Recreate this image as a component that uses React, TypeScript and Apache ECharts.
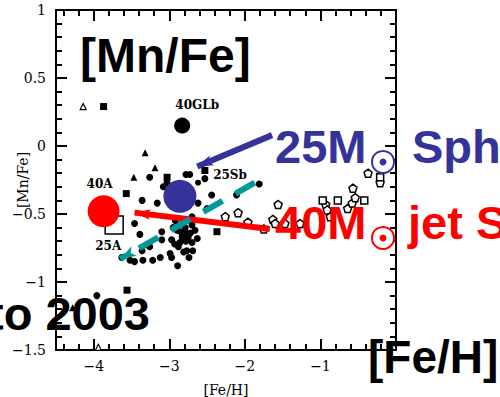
import React, { useEffect, useRef } from "react";
import * as echarts from "echarts";

// Halo star abundances: [Fe/H], [Mn/Fe]
const filledDots: number[][] = [
  [-3.26, -0.23], [-2.78, -0.21], [-2.53, -0.24], [-3.36, -0.40], [-3.16, -0.42],
  [-3.08, -0.30], [-2.44, -0.36], [-2.62, -0.42], [-2.50, -0.46], [-2.11, -0.36],
  [-3.46, -0.57], [-3.39, -0.65], [-3.10, -0.69], [-2.97, -0.69], [-2.90, -0.62],
  [-2.83, -0.67], [-2.79, -0.60], [-2.70, -0.58], [-2.66, -0.62], [-2.75, -0.67],
  [-2.86, -0.71], [-2.70, -0.71], [-2.63, -0.68], [-2.77, -0.77], [-2.69, -0.77],
  [-2.97, -0.82], [-2.74, -0.82], [-3.26, -0.74], [-3.36, -0.77], [-3.35, -0.84],
  [-3.22, -0.84], [-3.12, -0.82], [-2.89, -0.88], [-2.99, -0.79], [-3.52, -0.84],
  [-3.63, -0.82], [-2.95, -0.60], [-2.70, -0.52], [-2.77, -0.64], [-3.03, -0.27],
  [-2.73, -0.21], [-1.81, -0.28], [-3.96, -1.10], [-3.10, -0.63], [-3.28, -0.73],
  [-3.46, -0.85], [-2.92, -0.55], [-2.82, -0.56], [-2.85, -0.63], [-2.78, -0.70],
  [-2.72, -0.64], [-2.88, -0.74], [-2.81, -0.78], [-2.93, -0.72],
];
const filledSquares: number[][] = [
  [-3.87, 0.29], [-3.03, -0.23], [-3.57, -0.35], [-2.37, -0.63], [-2.53, -0.18], [-3.56, -1.06],
];
const filledTriangles: number[][] = [
  [-3.32, -0.05], [-3.19, -0.16], [-3.47, -0.23], [-4.28, -1.19],
];
const openTriangles: number[][] = [
  [-4.14, 0.29], [-3.94, -1.48],
];
const openPentagons: number[][] = [
  [-2.26, -0.52], [-2.09, -0.49], [-1.96, -0.56], [-1.75, -0.61], [-1.63, -0.54],
  [-1.60, -0.57], [-1.56, -0.43], [-1.47, -0.57], [-1.27, -0.57], [-0.93, -0.43],
  [-0.91, -0.47], [-0.87, -0.52], [-0.64, -0.46], [-0.58, -0.42], [-0.54, -0.38],
  [-0.57, -0.31], [-0.37, -0.20], [-0.21, -0.27],
];
const openSquares: number[][] = [
  [-0.97, -0.40], [-0.77, -0.40], [-0.42, -0.40], [-0.21, -0.23],
];

// Supernova model yields (drawn back to front)
const modelNames = ["25A", "25Sb", "40GLb", "25Sph", "40A"];
const modelPoints: number[][] = [
  [-3.73, -0.58], [-2.62, -0.27], [-2.83, 0.15], [-2.86, -0.37], [-3.87, -0.48],
];

// Arrows: [from, to]
const blueArrow: number[][] = [[-1.64, 0.08], [-2.63, -0.15]];
const redArrow: number[][] = [[-1.67, -0.61], [-3.46, -0.49]];
const tealArrow: number[][] = [[-1.87, -0.27], [-3.65, -0.83]];

// Axis ticks
const xTickLabels = [-4, -3, -2, -1];
const xMajorTicks = [-4, -3, -2, -1, 0];
const xMinorTicks = [
  -4.4, -4.2, -3.8, -3.6, -3.4, -3.2, -2.8, -2.6, -2.4, -2.2,
  -1.8, -1.6, -1.4, -1.2, -0.8, -0.6, -0.4, -0.2,
];
const yMajorTicks = [-1.5, -1, -0.5, 0, 0.5, 1];
const yMinorTicks = [
  -1.4, -1.3, -1.2, -1.1, -0.9, -0.8, -0.7, -0.6, -0.4, -0.3, -0.2, -0.1,
  0.1, 0.2, 0.3, 0.4, 0.6, 0.7, 0.8, 0.9,
];

const X_MIN = -4.5;
const X_MAX = 0;
const Y_MIN = -1.5;
const Y_MAX = 1;
const PLOT_W = 340;
const PLOT_H = 340;

const BLUE = "#333399";
const RED = "#ff0000";
const TEAL = "#009999";
const SERIF = "'DejaVu Serif', serif";
const SANS = "'Liberation Sans', Arial, sans-serif";

const fmt = (v: number) => String(v).replace("-", "\u2212");

export default function App() {
  const ref = useRef<HTMLDivElement>(null);

  useEffect(() => {
    if (!ref.current) return;
    const chart = echarts.init(ref.current, null, { renderer: "svg" });

    // tick lengths converted from pixels to data units of each axis
    const dx = (pxLen: number) => (pxLen * (X_MAX - X_MIN)) / PLOT_W;
    const dy = (pxLen: number) => (pxLen * (Y_MAX - Y_MIN)) / PLOT_H;
    const seg = (a: number[], b: number[]) => [{ coord: a }, { coord: b }];
    const frameTicks: any[] = [];
    const addX = (vals: number[], len: number) =>
      vals.forEach((v) => {
        frameTicks.push(seg([v, Y_MIN], [v, Y_MIN + dy(len)]));
        frameTicks.push(seg([v, Y_MAX], [v, Y_MAX - dy(len)]));
      });
    const addY = (vals: number[], len: number) =>
      vals.forEach((v) => {
        frameTicks.push(seg([X_MIN, v], [X_MIN + dx(len), v]));
        frameTicks.push(seg([X_MAX, v], [X_MAX - dx(len), v]));
      });
    addX(xMajorTicks, 11);
    addX(xMinorTicks, 6);
    addY(yMajorTicks, 11);
    addY(yMinorTicks, 6);

    const modelStyles: Record<string, any> = {
      "40GLb": { color: "#000", size: 16 },
      "40A": { color: RED, size: 32 },
      "25Sph": { color: BLUE, size: 33 },
      "25A": { color: "#fff", size: 18, border: "#000", symbol: "rect" },
      "25Sb": { color: "#000", size: 6 },
    };
    const labelOffsets: Record<string, number[]> = {
      "40GLb": [15, -21],
      "40A": [-4, -27],
      "25A": [-6, 21],
      "25Sb": [32, -8],
    };

    const dotSeries = (data: number[][], symbol: string, size: number, open: boolean, bw = 1.5) => ({
      type: "scatter", data, symbol, symbolSize: size, silent: true, z: 2,
      itemStyle: open
        ? { color: "#fff", borderColor: "#000", borderWidth: bw, opacity: 1 }
        : { color: "#000", opacity: 1 },
    });

    const bigText = (text: string, x: number, y: number, size: number, fill: string, align = "left") => ({
      type: "text", z: 100, silent: true,
      style: { text, x, y, align, verticalAlign: "middle", font: `bold ${size}px ${SANS}`, fill },
    });

    chart.setOption({
      animation: false,
      grid: {
        left: 56, top: 10, width: PLOT_W, height: PLOT_H,
        outerBoundsMode: "none", containLabel: false,
        show: true, borderColor: "#000", borderWidth: 2, backgroundColor: "transparent",
      },
      xAxis: {
        type: "value", min: X_MIN, max: X_MAX, position: "bottom",
        splitLine: { show: false },
        axisLine: { show: false, onZero: false },
        axisTick: { show: false },
        axisLabel: {
          customValues: xTickLabels, formatter: fmt, fontFamily: SERIF,
          fontSize: 14, color: "#000", margin: 9,
        },
        name: "[Fe/H]", nameLocation: "middle", nameGap: 33, nameMoveOverlap: false,
        nameTextStyle: { fontFamily: SERIF, fontSize: 14, color: "#000" },
      },
      yAxis: {
        type: "value", min: Y_MIN, max: Y_MAX, interval: 0.5, position: "left",
        splitLine: { show: false },
        axisLine: { show: false, onZero: false },
        axisTick: { show: false },
        axisLabel: { formatter: fmt, fontFamily: SERIF, fontSize: 14, color: "#000", margin: 10 },
        name: "[Mn/Fe]", nameLocation: "middle", nameGap: 26, nameMoveOverlap: false,
        nameTextStyle: { fontFamily: SERIF, fontSize: 14, color: "#000" },
      },
      series: [
        {
          ...dotSeries(filledDots, "circle", 7, false),
          // inward frame ticks on all four sides
          markLine: {
            silent: true, animation: false, z: 6,
            symbol: ["none", "none"],
            label: { show: false },
            emphasis: { disabled: true },
            lineStyle: { color: "#000", width: 2, type: "solid", opacity: 1 },
            data: frameTicks,
          },
        },
        dotSeries(filledSquares, "rect", 7, false),
        dotSeries(filledTriangles, "triangle", 7, false),
        dotSeries(openTriangles, "triangle", 6, true, 1.2),
        dotSeries(openPentagons, "path://M0,-1L0.95,-0.31L0.59,0.81L-0.59,0.81L-0.95,-0.31Z", 8, true),
        dotSeries(openSquares, "rect", 7, true),
        {
          type: "scatter", silent: true, z: 3,
          data: modelNames.map((name, i) => {
            const s = modelStyles[name];
            const off = labelOffsets[name];
            return {
              name, value: modelPoints[i], symbol: s.symbol || "circle", symbolSize: s.size,
              itemStyle: {
                color: s.color, borderColor: s.border || s.color,
                borderWidth: s.border ? 1.5 : 0, opacity: 1,
              },
              label: off
                ? {
                    show: true, position: "inside", offset: off, formatter: name,
                    fontFamily: SERIF, fontWeight: "bold", fontSize: 12, color: "#000",
                  }
                : { show: false },
            };
          }),
          markLine: {
            silent: true, animation: false, z: 5,
            symbol: ["none", "arrow"],
            label: { show: false },
            emphasis: { disabled: true },
            data: [
              [
                { coord: blueArrow[0], lineStyle: { color: BLUE, width: 6, type: "solid", opacity: 1 }, symbolSize: [20, 22] },
                { coord: blueArrow[1] },
              ],
              [
                { coord: redArrow[0], lineStyle: { color: RED, width: 6, type: "solid", opacity: 1 }, symbolSize: [18, 20] },
                { coord: redArrow[1] },
              ],
              [
                { coord: tealArrow[0], lineStyle: { color: TEAL, width: 6, type: [22, 15], opacity: 1 }, symbolSize: [22, 22] },
                { coord: tealArrow[1] },
              ],
            ],
          },
        },
      ],
      graphic: [
        bigText("[Mn/Fe]", 80, 55, 48, "#000"),
        bigText("25M", 275, 146, 47, BLUE),
        bigText("Sph", 412, 146, 47, BLUE),
        bigText("40M", 275, 222, 47, RED),
        bigText("jet S", 408, 222, 47, RED),
        bigText("to 2003", 150, 313, 47, "#000", "right"),
        bigText("[Fe/H]", 368, 357, 46, "#000"),
        // solar-mass symbols
        { type: "circle", z: 100, silent: true, shape: { cx: 383, cy: 162, r: 11 }, style: { fill: "#fff", stroke: BLUE, lineWidth: 2 } },
        { type: "circle", z: 100, silent: true, shape: { cx: 383, cy: 162, r: 3.5 }, style: { fill: BLUE } },
        { type: "circle", z: 100, silent: true, shape: { cx: 383, cy: 238, r: 11 }, style: { fill: "#fff", stroke: RED, lineWidth: 2 } },
        { type: "circle", z: 100, silent: true, shape: { cx: 383, cy: 238, r: 3.5 }, style: { fill: RED } },
      ],
    });

    return () => chart.dispose();
  }, []);

  return (
    <div
      ref={ref}
      style={{ position: "fixed", left: 0, top: 0, width: 500, height: 397, background: "#fff" }}
    />
  );
}
